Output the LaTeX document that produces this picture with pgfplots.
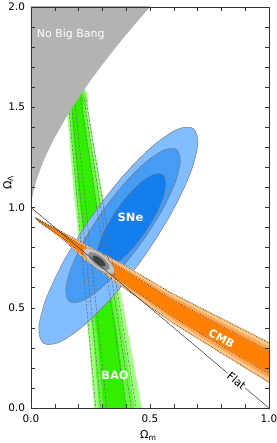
\documentclass[border=0pt]{standalone}
\usepackage{fontspec}
\setmainfont{DejaVu Sans}
\usepackage{pgfplots}
\pgfplotsset{compat=1.18}
\definecolor{nbb}{RGB}{179,179,179}
\definecolor{sn1}{RGB}{130,190,255}
\definecolor{sn2}{RGB}{70,155,245}
\definecolor{sn3}{RGB}{20,125,240}
\definecolor{bao1}{RGB}{160,255,130}
\definecolor{bao2}{RGB}{100,248,60}
\definecolor{bao3}{RGB}{50,238,0}
\definecolor{cmb1}{RGB}{255,200,140}
\definecolor{cmb2}{RGB}{255,165,80}
\definecolor{cmb3}{RGB}{255,128,0}
\begin{document}
\begin{tikzpicture}
\begin{axis}[
  scale only axis, width=238bp, height=401bp,
  at={(0,0)}, anchor=south west,
  xmin=0, xmax=1, ymin=0, ymax=2,
  xtick={0,0.5,1}, ytick={0,0.5,1,1.5,2},
  minor xtick={0.1,0.2,0.3,0.4,0.6,0.7,0.8,0.9},
  minor ytick={0.1,0.2,0.3,0.4,0.6,0.7,0.8,0.9,1.1,1.2,1.3,1.4,1.6,1.7,1.8,1.9},
  tick align=inside, xtick pos=both, ytick pos=both,
  major tick length=4bp, minor tick length=4bp,
  every tick/.style={black!80, line width=0.4bp},
  axis line style={black!80, line width=0.5bp},
  /pgf/number format/assume math mode=true,
  /pgf/number format/fixed, /pgf/number format/fixed zerofill,
  /pgf/number format/precision=1,
  tick label style={font=\fontsize{10.5}{12}\selectfont},
  xticklabel style={yshift=-3.5bp},
  yticklabel style={xshift=-2.5bp},
  xlabel={Ω\textsubscript{m}},
  ylabel={Ω\textsubscript{Λ}},
  xlabel style={at={(axis description cs:0.493,-0.0686)}, anchor=center, font=\fontsize{11}{12}\selectfont},
  ylabel style={at={(axis description cs:-0.0954,0.5623)}, anchor=center, rotate=0, font=\fontsize{11}{12}\selectfont},
  axis on top,
]
% ---- BAO bands
\addplot[fill=bao1, draw=none] coordinates {(0.270,-0.05) (0.265,0) (0.243,0.34) (0.180,1.07) (0.152,1.47) (0.158,1.58) (0.185,1.625) (0.220,1.62) (0.238,1.56) (0.242,1.47) (0.300,1.07) (0.413,0.34) (0.465,0) (0.473,-0.05)} --cycle;
\addplot[fill=bao2, draw=none] coordinates {(0.289,-0.05) (0.285,0) (0.262,0.34) (0.190,1.07) (0.161,1.47) (0.168,1.57) (0.190,1.61) (0.215,1.605) (0.229,1.56) (0.232,1.47) (0.285,1.07) (0.390,0.34) (0.435,0) (0.441,-0.05)} --cycle;
\addplot[fill=bao3, draw=none] coordinates {(0.310,-0.05) (0.305,0) (0.280,0.34) (0.200,1.07) (0.171,1.47) (0.178,1.555) (0.198,1.59) (0.213,1.58) (0.220,1.54) (0.220,1.47) (0.269,1.07) (0.366,0.34) (0.400,0) (0.406,-0.05)} --cycle;
% ---- SNe ellipses
\addplot[fill=sn1, draw=black!55, line width=0.4bp, smooth cycle] coordinates {(0.6817,1.3948) (0.7012,1.3179) (0.6699,1.1712) (0.5923,0.9770) (0.4805,0.7647) (0.3513,0.5668) (0.2245,0.4134) (0.1194,0.3277) (0.0519,0.3230) (0.0324,0.3999) (0.0637,0.5466) (0.1413,0.7408) (0.2531,0.9531) (0.3823,1.1510) (0.5091,1.3044) (0.6142,1.3901)};
\addplot[fill=sn2, draw=black!55, line width=0.4bp, smooth cycle] coordinates {(0.6118,1.2892) (0.6275,1.2329) (0.6065,1.1274) (0.5521,0.9888) (0.4724,0.8383) (0.3797,0.6988) (0.2881,0.5914) (0.2113,0.5325) (0.1614,0.5312) (0.1457,0.5875) (0.1667,0.6930) (0.2211,0.8316) (0.3008,0.9821) (0.3935,1.1216) (0.4851,1.2290) (0.5619,1.2879)};
\addplot[fill=sn3, draw=black!55, line width=0.4bp, smooth cycle] coordinates {(0.5518,1.1642) (0.5658,1.1274) (0.5576,1.0609) (0.5285,0.9749) (0.4829,0.8825) (0.4277,0.7977) (0.3714,0.7335) (0.3226,0.6996) (0.2886,0.7012) (0.2746,0.7380) (0.2828,0.8045) (0.3119,0.8905) (0.3575,0.9829) (0.4127,1.0677) (0.4690,1.1319) (0.5178,1.1658)};
% ---- CMB bands
\addplot[fill=cmb1, draw=none] coordinates {(0.02,0.948) (0.03,0.942) (0.136,0.876) (0.227,0.818) (0.4,0.709) (0.584,0.580) (0.8,0.450) (1.0,0.330) (1.05,0.301) (1.05,0.087) (1.0,0.124) (0.8,0.270) (0.584,0.430) (0.4,0.589) (0.227,0.738) (0.136,0.838) (0.03,0.932)} --cycle;
\addplot[fill=cmb2, draw=none] coordinates {(0.02,0.948) (0.03,0.9408) (0.136,0.8713) (0.227,0.808) (0.4,0.694) (0.584,0.5613) (0.8,0.4275) (1.0,0.3043) (1.05,0.274) (1.05,0.114) (1.0,0.1498) (0.8,0.2925) (0.584,0.4488) (0.4,0.604) (0.227,0.748) (0.136,0.8428) (0.03,0.9333)} --cycle;
\addplot[fill=cmb3, draw=none] coordinates {(0.02,0.948) (0.03,0.9395) (0.136,0.8665) (0.227,0.798) (0.4,0.679) (0.584,0.5425) (0.8,0.405) (1.0,0.2785) (1.05,0.2475) (1.05,0.1405) (1.0,0.1755) (0.8,0.315) (0.584,0.4675) (0.4,0.619) (0.227,0.758) (0.136,0.8475) (0.03,0.9345)} --cycle;
% ---- BAO dashed contours
\addplot[black!60, line width=0.5bp, dash pattern=on 2.5bp off 1.5bp] coordinates {(0.276,-0.05) (0.155,1.55)};
\addplot[black!60, line width=0.5bp, dash pattern=on 2.5bp off 1.5bp] coordinates {(0.298,-0.05) (0.167,1.55)};
\addplot[black!60, line width=0.5bp, dash pattern=on 2.5bp off 1.5bp] coordinates {(0.323,-0.05) (0.182,1.55)};
\addplot[black!60, line width=0.5bp, dash pattern=on 2.5bp off 1.5bp] coordinates {(0.407,-0.05) (0.208,1.55)};
\addplot[black!60, line width=0.5bp, dash pattern=on 2.5bp off 1.5bp] coordinates {(0.428,-0.05) (0.222,1.55)};
\addplot[black!60, line width=0.5bp, dash pattern=on 2.5bp off 1.5bp] coordinates {(0.449,-0.05) (0.230,1.55)};
% ---- CMB dotted contours
\addplot[black!85, line width=0.6bp, dash pattern=on 0.6bp off 1.2bp] coordinates {(0.02,0.948) (0.03,0.9398) (0.136,0.8675) (0.227,0.800) (0.4,0.682) (0.584,0.5463) (0.8,0.4095) (1.0,0.2837) (1.05,0.2529)};
\addplot[black!85, line width=0.6bp, dash pattern=on 0.6bp off 1.2bp] coordinates {(0.02,0.948) (0.03,0.9343) (0.136,0.8466) (0.227,0.756) (0.4,0.616) (0.584,0.4638) (0.8,0.3105) (1.0,0.1703) (1.05,0.1351)};
\addplot[black!85, line width=0.6bp, dash pattern=on 0.6bp off 1.2bp] coordinates {(0.02,0.948) (0.03,0.9418) (0.136,0.8751) (0.227,0.816) (0.4,0.706) (0.584,0.5763) (0.8,0.4455) (1.0,0.3249) (1.05,0.2957)};
\addplot[black!85, line width=0.6bp, dash pattern=on 0.6bp off 1.2bp] coordinates {(0.02,0.948) (0.03,0.9323) (0.136,0.8390) (0.227,0.740) (0.4,0.592) (0.584,0.4338) (0.8,0.2745) (1.0,0.1291) (1.05,0.0923)};
% ---- combined contours
\addplot[fill=black!22, draw=black!45, line width=0.3bp, smooth cycle] coordinates {(0.3486,0.6746) (0.3492,0.6962) (0.3328,0.7276) (0.3038,0.7605) (0.2699,0.7860) (0.2402,0.7974) (0.2228,0.7914) (0.2222,0.7698) (0.2386,0.7384) (0.2676,0.7055) (0.3015,0.6800) (0.3312,0.6686)};
\addplot[fill=black!45, draw=none, smooth cycle] coordinates {(0.3287,0.6931) (0.3294,0.7083) (0.3184,0.7301) (0.2986,0.7527) (0.2754,0.7700) (0.2549,0.7774) (0.2427,0.7729) (0.2420,0.7577) (0.2530,0.7359) (0.2728,0.7133) (0.2960,0.6960) (0.3165,0.6886)};
\addplot[fill=black!75, draw=none, smooth cycle] coordinates {(0.3122,0.7084) (0.3125,0.7176) (0.3057,0.7309) (0.2935,0.7448) (0.2792,0.7555) (0.2667,0.7602) (0.2592,0.7576) (0.2589,0.7484) (0.2657,0.7351) (0.2779,0.7212) (0.2922,0.7105) (0.3047,0.7058)};
% ---- No Big Bang region
\addplot[fill=nbb, draw=none] coordinates {(-0.05,1) (0,1) (0.001,1.018) (0.002,1.0283) (0.005,1.0513) (0.01,1.080) (0.02,1.125) (0.03,1.162) (0.05,1.2245) (0.075,1.2909) (0.1,1.35) (0.15,1.4545) (0.2,1.5476) (0.25,1.6332) (0.3,1.7135) (0.35,1.7895) (0.4,1.8623) (0.45,1.9323) (0.5,2.0) (0.51,2.05) (-0.05,2.05)} --cycle;
% ---- flat universe line
\addplot[black!85, line width=0.4bp] coordinates {(0,1) (1,0)};
% ---- labels
\node[white, font=\fontsize{11}{12}\selectfont] at (axis cs:0.167,1.863) {No Big Bang};
\node[white, font=\bfseries\fontsize{11.5}{12}\selectfont] at (axis cs:0.418,0.950) {SNe};
\node[white, font=\bfseries\fontsize{11.5}{12}\selectfont] at (axis cs:0.353,0.163) {BAO};
\node[white, font=\bfseries\fontsize{11}{12}\selectfont, rotate=-28] at (axis cs:0.801,0.348) {CMB};
\node[black, fill=white, inner sep=1bp, font=\fontsize{11}{12}\selectfont, rotate=-40] at (axis cs:0.864,0.136) {Flat};
\end{axis}
\pgfresetboundingbox
\path[use as bounding box] (-31bp,-35bp) rectangle (246bp,408bp);
\end{tikzpicture}
\end{document}
